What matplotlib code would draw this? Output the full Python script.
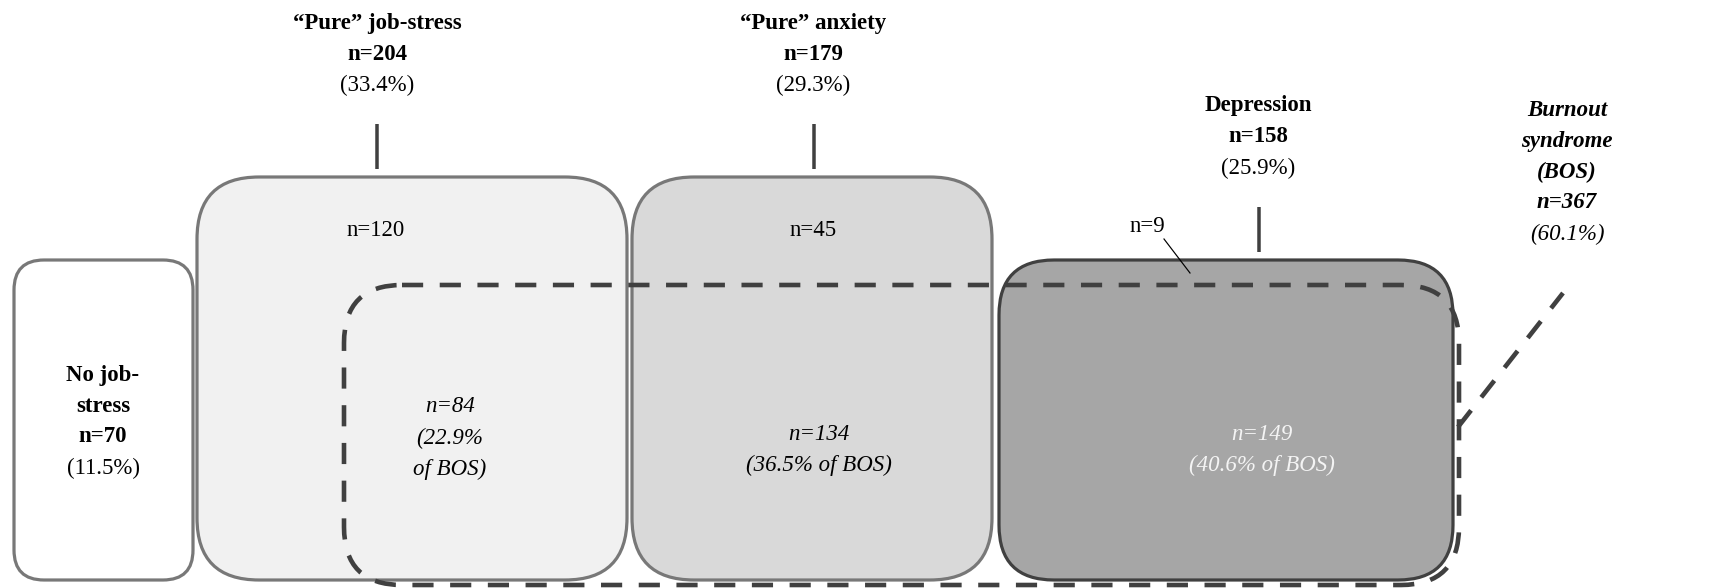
import matplotlib
matplotlib.use("Agg")
import matplotlib.pyplot as plt
from matplotlib.patches import FancyBboxPatch

# ---- data ----
groups = ["No job-stress", "\u201cPure\u201d job-stress", "\u201cPure\u201d anxiety", "Depression"]
group_n = [70, 204, 179, 158]
group_pct = [11.5, 33.4, 29.3, 25.9]
non_bos_n = [120, 45, 9]          # job-stress, anxiety, depression (outside BOS)
bos_n = [84, 134, 149]            # job-stress, anxiety, depression (inside BOS)
bos_pct = [22.9, 36.5, 40.6]
bos_label = "Burnout syndrome (BOS)"
bos_total_n = 367
bos_total_pct = 60.1

# ---- figure ----
W, H = 1725, 588
fig = plt.figure(figsize=(W / 100, H / 100), dpi=100)
ax = fig.add_axes([0, 0, 1, 1])
ax.set_xlim(0, W)
ax.set_ylim(H, 0)
ax.axis("off")

FONT = "Liberation Serif"
FS = 16.5
PX = 0.72  # points per pixel at 100 dpi


def box(x0, y0, x1, y1, r, fc, ec, lw_px, ls="-", z=1):
    p = FancyBboxPatch((x0, y0), x1 - x0, y1 - y0,
                       boxstyle=f"round,pad=0,rounding_size={r}",
                       fc=fc, ec=ec, lw=lw_px * PX, ls=ls, zorder=z)
    ax.add_patch(p)
    return p


def txt(x, y, s, weight="normal", style="normal", color="black", fs=FS):
    ax.text(x, y, s, ha="center", va="center", fontfamily=FONT,
            fontweight=weight, fontstyle=style, color=color, fontsize=fs, zorder=10)


# boxes
box(14, 260, 193, 580, 30, "white", "#787878", 3.2)
box(197, 177, 627, 580, 62, "#f1f1f1", "#787878", 3.2)
box(632, 177, 992, 580, 62, "#d9d9d9", "#787878", 3.2)
box(999, 260, 1453, 580, 55, "#a6a6a6", "#404040", 3.2, z=2)

# BOS dashed outline
bos = FancyBboxPatch((344, 285), 1459 - 344, 585 - 285,
                     boxstyle="round,pad=0,rounding_size=58",
                     fc="none", ec="#404040", lw=4.6 * PX, zorder=5)
bos.set_linestyle((0, (4.6, 3.6)))
ax.add_patch(bos)

# ticks above boxes
for x, y0, y1 in [(377, 124, 169), (814, 124, 169), (1259, 207, 252)]:
    ax.plot([x, x], [y0, y1], color="#404040", lw=3.5 * PX, solid_capstyle="butt", zorder=3)

# diagonal dashed link to BOS label
ax.plot([1458, 1563], [427, 293], color="#404040", lw=4.6 * PX,
        dashes=(4.6, 3.6), zorder=5)

# n=9 leader
ax.plot([1164, 1190], [239, 273], color="black", lw=1.2 * PX, zorder=6)

# group titles
txt(377, 24, groups[1], weight="bold")
txt(377, 54, f"n={group_n[1]}", weight="bold")
txt(377, 85, f"({group_pct[1]}%)")

txt(813, 24, groups[2], weight="bold")
txt(813, 54, f"n={group_n[2]}", weight="bold")
txt(813, 85, f"({group_pct[2]}%)")

txt(1258, 106, groups[3], weight="bold")
txt(1258, 137, f"n={group_n[3]}", weight="bold")
txt(1258, 168, f"({group_pct[3]}%)")

# No job-stress inside box
txt(103, 375, "No job-", weight="bold")
txt(103, 406, "stress", weight="bold")
txt(103, 437, f"n={group_n[0]}", weight="bold")
txt(103, 468, f"({group_pct[0]}%)")

# BOS label
b1, b2 = "Burnout syndrome", "(BOS)"
txt(1567, 110, "Burnout", weight="bold", style="italic")
txt(1567, 141, "syndrome", weight="bold", style="italic")
txt(1567, 172, "(BOS)", weight="bold", style="italic")
txt(1567, 203, f"n={bos_total_n}", weight="bold", style="italic")
txt(1567, 234, f"({bos_total_pct}%)", style="italic")

# non-BOS counts
txt(376, 230, f"n={non_bos_n[0]}")
txt(813, 230, f"n={non_bos_n[1]}")
txt(1147, 227, f"n={non_bos_n[2]}")

# BOS counts
txt(450, 407, f"n={bos_n[0]}", style="italic")
txt(450, 438, f"({bos_pct[0]}%", style="italic")
txt(450, 469, "of BOS)", style="italic")

txt(819, 434, f"n={bos_n[1]}", style="italic")
txt(819, 465, f"({bos_pct[1]}% of BOS)", style="italic")

txt(1262, 434, f"n={bos_n[2]}", style="italic", color="#f4f4f4")
txt(1262, 465, f"({bos_pct[2]}% of BOS)", style="italic", color="#f4f4f4")

fig.savefig("out.png", dpi=100)
